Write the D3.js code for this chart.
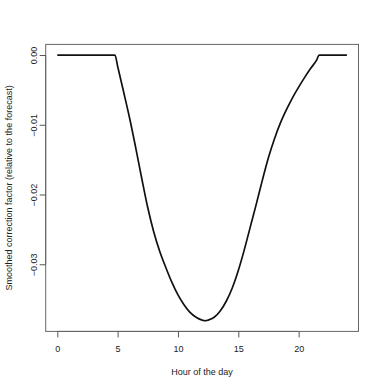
<!DOCTYPE html>
<html><head><meta charset="utf-8">
<script src="https://cdn.jsdelivr.net/npm/d3@7"></script>
<style>body{margin:0;background:#fff}svg{display:block}text{font-family:"Liberation Sans",Arial,sans-serif;fill:#222}</style>
</head><body>
<script>
const hours = [0, 4.78, 5, 5.5, 6, 6.5, 7, 7.5, 8, 8.5, 9, 9.5, 10, 10.5, 11, 11.5, 12, 12.25, 12.5, 13, 13.5, 14, 14.5, 15, 15.5, 16, 16.5, 17, 17.5, 18, 18.5, 19, 19.5, 20, 20.5, 21, 21.5, 21.7, 24];
const factor = [0, 0, -0.0016, -0.0053, -0.0091, -0.0133, -0.0177, -0.0219, -0.0254, -0.0282, -0.0305, -0.0326, -0.0344, -0.0358, -0.0369, -0.0376, -0.0380, -0.0381, -0.0380, -0.0376, -0.0367, -0.0353, -0.0334, -0.0309, -0.0279, -0.0246, -0.0213, -0.0179, -0.0147, -0.0120, -0.0097, -0.0078, -0.0061, -0.0046, -0.0032, -0.0019, -0.0007, 0, 0];
const xTicks = [0, 5, 10, 15, 20];
const yTicks = [0, -0.01, -0.02, -0.03];
const xTitle = "Hour of the day";
const yTitle = "Smoothed correction factor (relative to the forecast)";

const W = 382, H = 389;
const svg = d3.select("body").append("svg").attr("width", W).attr("height", H);
const L = 45.7, R = 358.5, T = 44.4, B = 331.4;
const xmin = d3.min(hours), xmax = d3.max(hours);
const dx = (xmax - xmin) * 0.04;
const ymin = d3.min(factor), ymax = d3.max(factor);
const dy = (ymax - ymin) * 0.04;
const x = d3.scaleLinear().domain([xmin - dx, xmax + dx]).range([L, R]);
const y = d3.scaleLinear().domain([ymin - dy, ymax + dy]).range([B, T]);

// box
svg.append("rect").attr("x", L).attr("y", T).attr("width", R - L).attr("height", B - T)
  .attr("fill", "none").attr("stroke", "#666").attr("stroke-width", 1);

// x axis
const xa = svg.append("g").attr("transform", `translate(0,${B})`)
  .call(d3.axisBottom(x).tickValues(xTicks).tickSize(6).tickPadding(8).tickFormat(d3.format("d")));
xa.select(".domain").attr("d", `M${x(xTicks[0])},0H${x(xTicks[xTicks.length-1])}`).attr("stroke", "#666");
xa.selectAll(".tick line").attr("stroke", "#555");
xa.selectAll("text").attr("font-size", 9).style("font-family", "Liberation Sans, Arial, sans-serif").attr("fill", "#222");

// y axis
const ya = svg.append("g").attr("transform", `translate(${L},0)`)
  .call(d3.axisLeft(y).tickValues(yTicks).tickSize(6).tickFormat(d3.format(".2f")));
ya.select(".domain").attr("d", `M0,${y(yTicks[0])}V${y(yTicks[yTicks.length-1])}`).attr("stroke", "#666");
ya.selectAll(".tick line").attr("stroke", "#555");
ya.selectAll("text").attr("font-size", 9).style("font-family", "Liberation Sans, Arial, sans-serif").attr("fill", "#222")
  .attr("x", null).attr("dy", null).attr("text-anchor", "middle")
  .attr("transform", "translate(-9,0) rotate(-90)");

// line
svg.append("path").datum(hours.map((h, i) => [h, factor[i]]))
  .attr("fill", "none").attr("stroke", "#111").attr("stroke-width", 1.7)
  .attr("stroke-linejoin", "round")
  .attr("d", d3.line().x(d => x(d[0])).y(d => y(d[1])).curve(d3.curveMonotoneX));

// titles
svg.append("text").attr("x", (L + R) / 2).attr("y", 374.5).attr("text-anchor", "middle")
  .attr("font-size", 9).text(xTitle);
svg.append("text").attr("transform", `translate(11.5,${(T + B) / 2}) rotate(-90)`)
  .attr("text-anchor", "middle").attr("font-size", 9).text(yTitle);
</script>
</body></html>
